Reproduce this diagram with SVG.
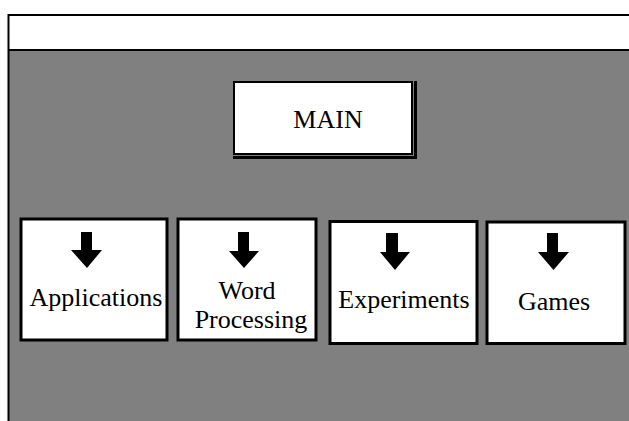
<svg xmlns="http://www.w3.org/2000/svg" width="629" height="421" viewBox="0 0 629 421">
<style>
.box{fill:#fff;stroke:#000;stroke-width:3}
.lbl{font-family:'Liberation Serif','Times New Roman','DejaVu Serif',serif;font-size:26px;fill:#000;text-anchor:middle}
.arr{fill:#000}
</style>
<rect x="0" y="0" width="629" height="421" fill="#fff"/>
<g id="frame">
<rect x="8.5" y="50" width="640" height="400" fill="#808080"/>
<rect x="8.5" y="15" width="640" height="35" fill="#fff"/>
<path d="M8.5 430V15H640M8.5 50H640" fill="none" stroke="#000" stroke-width="2"/>
</g>
<g id="main">
<rect x="234" y="82" width="178" height="72" fill="#fff" stroke="#000" stroke-width="2"/>
<polyline points="415.5,81 415.5,157.5 233,157.5" fill="none" stroke="#000" stroke-width="3"/>
<text class="lbl" x="328" y="128" font-family="Liberation Serif, serif">MAIN</text>
</g>
<g id="applications">
<rect class="box" x="21" y="219" width="146" height="121"/>
<polygon class="arr" points="81,232 92,232 92,250 102,250 87,268 71,250 81,250"/>
<text class="lbl" x="96" y="306">Applications</text>
</g>
<g id="word-processing">
<rect class="box" x="178" y="219" width="138" height="121"/>
<polygon class="arr" points="238,232 249,232 249,251 259,251 244,268 229,251 238,251"/>
<text class="lbl" x="247" y="299">Word</text>
<text class="lbl" x="251" y="328">Processing</text>
</g>
<g id="experiments">
<rect class="box" x="330" y="221.5" width="147" height="122"/>
<polygon class="arr" points="386,233 398,233 398,252 410,252 395,270 380,252 386,252"/>
<text class="lbl" x="404" y="308">Experiments</text>
</g>
<g id="games">
<rect class="box" x="487" y="222" width="138" height="121.5"/>
<polygon class="arr" points="547,233 558,233 558,252 569,252 553.5,270 538,252 547,252"/>
<text class="lbl" x="554" y="310">Games</text>
</g>
<g id="connectors"></g>
</svg>
